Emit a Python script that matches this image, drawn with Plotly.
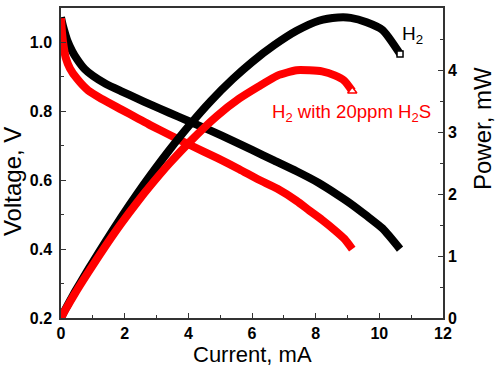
import plotly.graph_objects as go

# Data
i_h2 = [0, 0.03, 0.1, 0.2, 0.35, 0.5, 0.75, 1.0, 1.4, 1.9, 2.4, 2.8, 3.4, 4.0, 4.7, 5.4, 6.0, 6.7, 7.4, 8.1, 8.7, 9.1, 9.6, 10.1, 10.65]
v_h2 = [1.073, 1.06, 1.035, 1.005, 0.975, 0.952, 0.922, 0.903, 0.88, 0.858, 0.837, 0.82, 0.796, 0.772, 0.744, 0.714, 0.688, 0.657, 0.626, 0.592, 0.557, 0.532, 0.497, 0.46, 0.40]
p_h2 = [0, 0.032, 0.104, 0.201, 0.341, 0.476, 0.692, 0.903, 1.232, 1.63, 2.009, 2.296, 2.706, 3.088, 3.497, 3.856, 4.128, 4.402, 4.632, 4.795, 4.846, 4.841, 4.771, 4.646, 4.26]

i_h2s = [0, 0.03, 0.08, 0.15, 0.28, 0.5, 0.86, 1.3, 1.9, 2.4, 2.8, 3.4, 4.1, 4.9, 5.6, 6.2, 6.8, 7.4, 7.8, 8.2, 8.6, 8.9, 9.15]
v_h2s = [1.07, 1.03, 0.99, 0.955, 0.925, 0.895, 0.86, 0.835, 0.805, 0.78, 0.76, 0.732, 0.70, 0.665, 0.632, 0.602, 0.575, 0.54, 0.512, 0.485, 0.455, 0.43, 0.40]
p_h2s = [0, 0.031, 0.079, 0.143, 0.259, 0.448, 0.740, 1.086, 1.530, 1.872, 2.128, 2.489, 2.870, 3.259, 3.539, 3.732, 3.910, 3.996, 3.994, 3.977, 3.913, 3.827, 3.66]

x_ticks = [0, 2, 4, 6, 8, 10, 12]
v_ticks = [0.2, 0.4, 0.6, 0.8, 1.0]
v_labels = ["0.2", "0.4", "0.6", "0.8", "1.0"]
p_ticks = [0, 1, 2, 3, 4, 5]

FONT = "Arial, Liberation Sans, sans-serif"
BLACK = "#000000"
RED = "#ff0000"
LW = 8
TFS = 16

fig = go.Figure()
fig.add_trace(go.Scatter(x=i_h2, y=v_h2, mode="lines", line=dict(color=BLACK, width=LW, shape="spline", smoothing=0.6), yaxis="y"))
fig.add_trace(go.Scatter(x=i_h2, y=p_h2, mode="lines", line=dict(color=BLACK, width=LW, shape="spline", smoothing=0.6), yaxis="y2"))
fig.add_trace(go.Scatter(x=i_h2s, y=v_h2s, mode="lines", line=dict(color=RED, width=LW, shape="spline", smoothing=0.6), yaxis="y"))
fig.add_trace(go.Scatter(x=i_h2s, y=p_h2s, mode="lines", line=dict(color=RED, width=LW, shape="spline", smoothing=0.6), yaxis="y2"))
# end markers
fig.add_trace(go.Scatter(x=i_h2[-1:], y=p_h2[-1:], mode="markers", yaxis="y2",
                         marker=dict(symbol="square", size=6, color="white", line=dict(color=BLACK, width=1.5))))
fig.add_trace(go.Scatter(x=i_h2s[-1:], y=p_h2s[-1:], mode="markers", yaxis="y2",
                         marker=dict(symbol="triangle-up", size=8, color="white", line=dict(color=RED, width=1.5))))

axcol = "#333333"
common = dict(ticks="inside", ticklen=5, tickcolor=axcol, showline=True, linecolor=axcol, linewidth=1.5,
              showgrid=False, zeroline=False, automargin=False,
              tickfont=dict(size=TFS, family=FONT, color="black"))
fig.update_layout(
    width=500, height=366,
    margin=dict(l=61, r=57, t=8, b=48),
    paper_bgcolor="white", plot_bgcolor="white",
    showlegend=False,
    font=dict(family=FONT, color="black"),
    xaxis=dict(range=[0, 12], tickvals=x_ticks, ticktext=[f"<b>{t}</b>" for t in x_ticks], ticklabelstandoff=0,
               minor=dict(dtick=1, ticks="inside", ticklen=3, tickcolor=axcol), mirror=True, **common),
    yaxis=dict(range=[0.2, 1.1], tickvals=v_ticks, ticktext=[f"<b>{t}</b>" for t in v_labels], ticklabelstandoff=4,
               minor=dict(dtick=0.1, ticks="inside", ticklen=3, tickcolor=axcol), **common),
    yaxis2=dict(range=[0, 5], tickvals=p_ticks, ticktext=[f"<b>{t}</b>" for t in p_ticks], overlaying="y", side="right",
                minor=dict(dtick=0.5, ticks="inside", ticklen=3, tickcolor=axcol), **common),
)

fig.add_annotation(x=0.5, y=-0.163, xref="paper", yref="paper", text="Current, mA", showarrow=False,
                   xanchor="center", yanchor="bottom", font=dict(size=22, family=FONT, color="black"))
fig.add_annotation(x=-0.127, y=0.44, xref="paper", yref="paper", text="Voltage, V", showarrow=False, textangle=-90,
                   xanchor="center", yanchor="middle", font=dict(size=24, family=FONT, color="black"))
fig.add_annotation(x=1.105, y=0.61, xref="paper", yref="paper", text="Power, mW", showarrow=False, textangle=-90,
                   xanchor="center", yanchor="middle", font=dict(size=24, family=FONT, color="black"))

fig.add_annotation(x=10.65, y=4.56, xref="x", yref="y2", text="H<sub>2</sub>", showarrow=False,
                   xanchor="left", yanchor="middle", font=dict(size=19, family=FONT, color=BLACK))
fig.add_annotation(x=6.58, y=3.31, xref="x", yref="y2", text="H<sub>2</sub> with 20ppm H<sub>2</sub>S", showarrow=False,
                   xanchor="left", yanchor="middle", font=dict(size=18.6, family=FONT, color=RED))

fig.write_html("out.html", config={"displayModeBar": False},
               post_script="document.body.style.margin='0px';document.body.style.overflow='hidden';")
